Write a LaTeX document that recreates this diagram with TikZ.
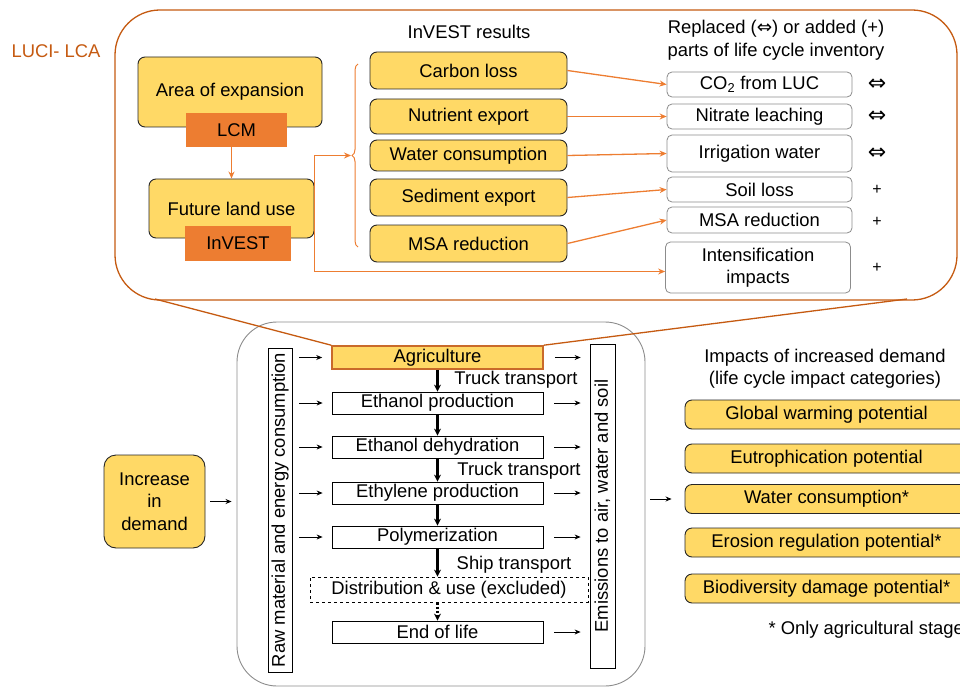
\documentclass[tikz,border=0pt]{standalone}
\usepackage{fontspec}
\setmainfont{Liberation Sans}
\newfontfamily\symf{DejaVu Sans}
\usetikzlibrary{arrows.meta,decorations.pathreplacing,calc}
\definecolor{yel}{HTML}{FFD966}
\definecolor{oran}{HTML}{ED7D31}
\definecolor{dor}{HTML}{C55A11}
\definecolor{gbr}{HTML}{8C8C8C}
\newcommand\fs{\fontsize{18.4}{22.5}\selectfont}
\begin{document}
\begin{tikzpicture}[x=1pt,y=-1pt, font=\fs,
  ybox/.style={draw=black!85, fill=yel, rounded corners=7pt, line width=0.9pt, inner sep=0pt, align=center},
  obox/.style={fill=oran, inner sep=0pt},
  gbox/.style={draw=gbr, fill=white, rounded corners=5pt, line width=0.8pt, inner sep=0pt, align=center},
  pbox/.style={draw=black, fill=white, line width=0.8pt, inner sep=0pt, minimum width=211, minimum height=22},
  oarr/.style={draw=oran, line width=1.3pt, -{Stealth[length=7pt,width=6pt]}},
  barr/.style={draw=black, line width=2.2pt, -{Stealth[length=7pt,width=7pt]}},
  sarr/.style={draw=black, line width=0.8pt, -{Stealth[length=6pt,width=5pt]}},
  rbox/.style={ybox, minimum width=197},
  lbox/.style={gbox, minimum width=185},
  ibox/.style={ybox, minimum width=283, minimum height=29},
  symb/.style={font=\symf\fontsize{22}{24}\selectfont},
  plus/.style={font=\fontsize{16}{18}\selectfont},
]
\useasboundingbox (0,0) rectangle (960,687);

% ---------------- top block ----------------
\node[anchor=west, text=dor] (luci) at (8,51) {LUCI- LCA};
\node[draw=dor, line width=1.3pt, rounded corners=45pt, minimum width=842, minimum height=290, inner sep=0pt] (outer) at (536,155) {};

\node[ybox, minimum width=184, minimum height=70] (area) at (230,92) {Area of expansion};
\node[obox, minimum width=101, minimum height=34] (lcm) at (236.5,130) {LCM};
\node[ybox, minimum width=165, minimum height=59] (flu) at (231.5,208.5) {Future land use};
\node[obox, minimum width=106, minimum height=35] (inv) at (238,243.5) {InVEST};
\draw[oarr] (lcm.south -| flu.north) -- (flu.north);

\node (invres) at (469,32) {InVEST results};
\node[rbox, minimum height=37] (carb) at (468.5,70.5) {Carbon loss};
\node[rbox, minimum height=35] (nutr) at (468.5,116.5) {Nutrient export};
\node[rbox, minimum height=31] (watc) at (468.5,155.5) {Water consumption};
\node[rbox, minimum height=37] (sedi) at (468.5,197.5) {Sediment export};
\node[rbox, minimum height=37] (msa) at (468.5,243.5) {MSA reduction};

\draw[oran, line width=1pt, decorate, decoration={brace, amplitude=6pt}] (358,247) -- (358,64);
\coordinate (brtip) at (351,155.5);

\node[align=center] (hdr) at (776,40) {Replaced ({\symf ⇔}) or added (+)\\parts of life cycle inventory};
\node[lbox, minimum height=25] (co2) at (759.5,84.5) {CO\textsubscript{2} from LUC};
\node[lbox, minimum height=25] (nit) at (759.5,116.5) {Nitrate leaching};
\node[lbox, minimum height=37] (irr) at (759.5,153.5) {Irrigation water};
\node[lbox, minimum height=25] (soil) at (759.5,189.5) {Soil loss};
\node[lbox, minimum height=26] (msa2) at (759.5,220) {MSA reduction};
\node[lbox, minimum height=51] (intens) at (758,267.5) {Intensification\\impacts};

\node[symb] (s1) at (877,84.5) {⇔};
\node[symb] (s2) at (877,116.5) {⇔};
\node[symb] (s3) at (877,153.5) {⇔};
\node[plus] (s4) at (877,190) {+};
\node[plus] (s5) at (877,222) {+};
\node[plus] (s6) at (877,268) {+};

\draw[oarr] (carb.east) -- (co2.west);
\draw[oarr] (nutr.east) -- (nit.west);
\draw[oarr] (watc.east) -- (irr.west);
\draw[oarr] (sedi.east) -- (soil.west);
\draw[oarr] (msa.east) -- (msa2.west);
\draw[oarr] (flu.east) |- (brtip);
\draw[oarr] (flu.east) |- ($(intens.west)+(0,4)$);

% ---------------- lower block ----------------
\node[draw=gbr, line width=0.9pt, rounded corners=40pt, minimum width=408, minimum height=364, inner sep=0pt] (low) at (441,504) {};

\coordinate (zl) at (155,299);
\coordinate (zr) at (907,299);

\node[pbox, fill=yel, draw=oran!85!black, line width=1.6pt, minimum height=23] (agri) at (437.5,357.5) {Agriculture};
\node[pbox] (ethp) at (437.5,403) {Ethanol production};
\node[pbox] (ethd) at (437.5,447) {Ethanol dehydration};
\node[pbox] (ethy) at (437.5,493) {Ethylene production};
\node[pbox] (poly) at (437.5,537) {Polymerization};
\node[pbox, dashed, minimum width=278, minimum height=25] (dist) at (449,589.5) {Distribution \& use (excluded)};
\node[pbox] (eol) at (437.5,632) {End of life};

\draw[dor, line width=1.3pt] (zl) -- (agri.north west);
\draw[dor, line width=1.3pt] (zr) -- (agri.north east);

\node[pbox, rotate=90, minimum width=324, minimum height=24] (raw) at (280,510) {Raw material and energy consumption};
\node[pbox, rotate=90, minimum width=324, minimum height=25] (emis) at (602.5,506) {Emissions to air, water and soil};

\draw[barr] (agri.south) -- (ethp.north);
\draw[barr] (ethp.south) -- (ethd.north);
\draw[barr] (ethd.south) -- (ethy.north);
\draw[barr] (ethy.south) -- (poly.north);
\draw[barr] (poly.south) -- (poly.south |- dist.north);
\draw[barr, dotted] (dist.south -| eol.north) -- (eol.north);

\node (tt1) at (516,380) {Truck transport};
\node (tt2) at (519,471) {Truck transport};
\node (ship) at (514,565) {Ship transport};

\foreach \n in {agri,ethp,ethd,ethy,poly}{
  \draw[sarr] ([xshift=7pt]raw.south |- \n.west) -- ([xshift=-9pt]\n.west);
}
\foreach \n in {agri,ethp,ethd,ethy,poly,eol}{
  \draw[sarr] ([xshift=11pt]\n.east) -- ([xshift=-9pt]emis.north |- \n.east);
}

\node[ybox, rounded corners=12pt, minimum width=101, minimum height=93] (inc) at (154.5,501.5) {Increase\\in\\demand};
\draw[sarr] ([xshift=5pt]inc.east) -- ([xshift=-5pt]low.west |- inc.east);

\node[align=center] (imphdr) at (825,368.5) {Impacts of increased demand\\(life cycle impact categories)};
\node[ibox] (gwp) at (826.5,414.5) {Global warming potential};
\node[ibox] (eut) at (826.5,458.5) {Eutrophication potential};
\node[ibox] (wat) at (826.5,499) {Water consumption*};
\node[ibox] (ero) at (826.5,542.5) {Erosion regulation potential*};
\node[ibox] (bio) at (826.5,588.5) {Biodiversity damage potential*};
\draw[sarr] ([xshift=5pt]low.east |- wat.west) -- ([xshift=-13pt]wat.west);

\node[anchor=west] (note) at (765,630) {* Only agricultural stage};
\end{tikzpicture}
\end{document}
